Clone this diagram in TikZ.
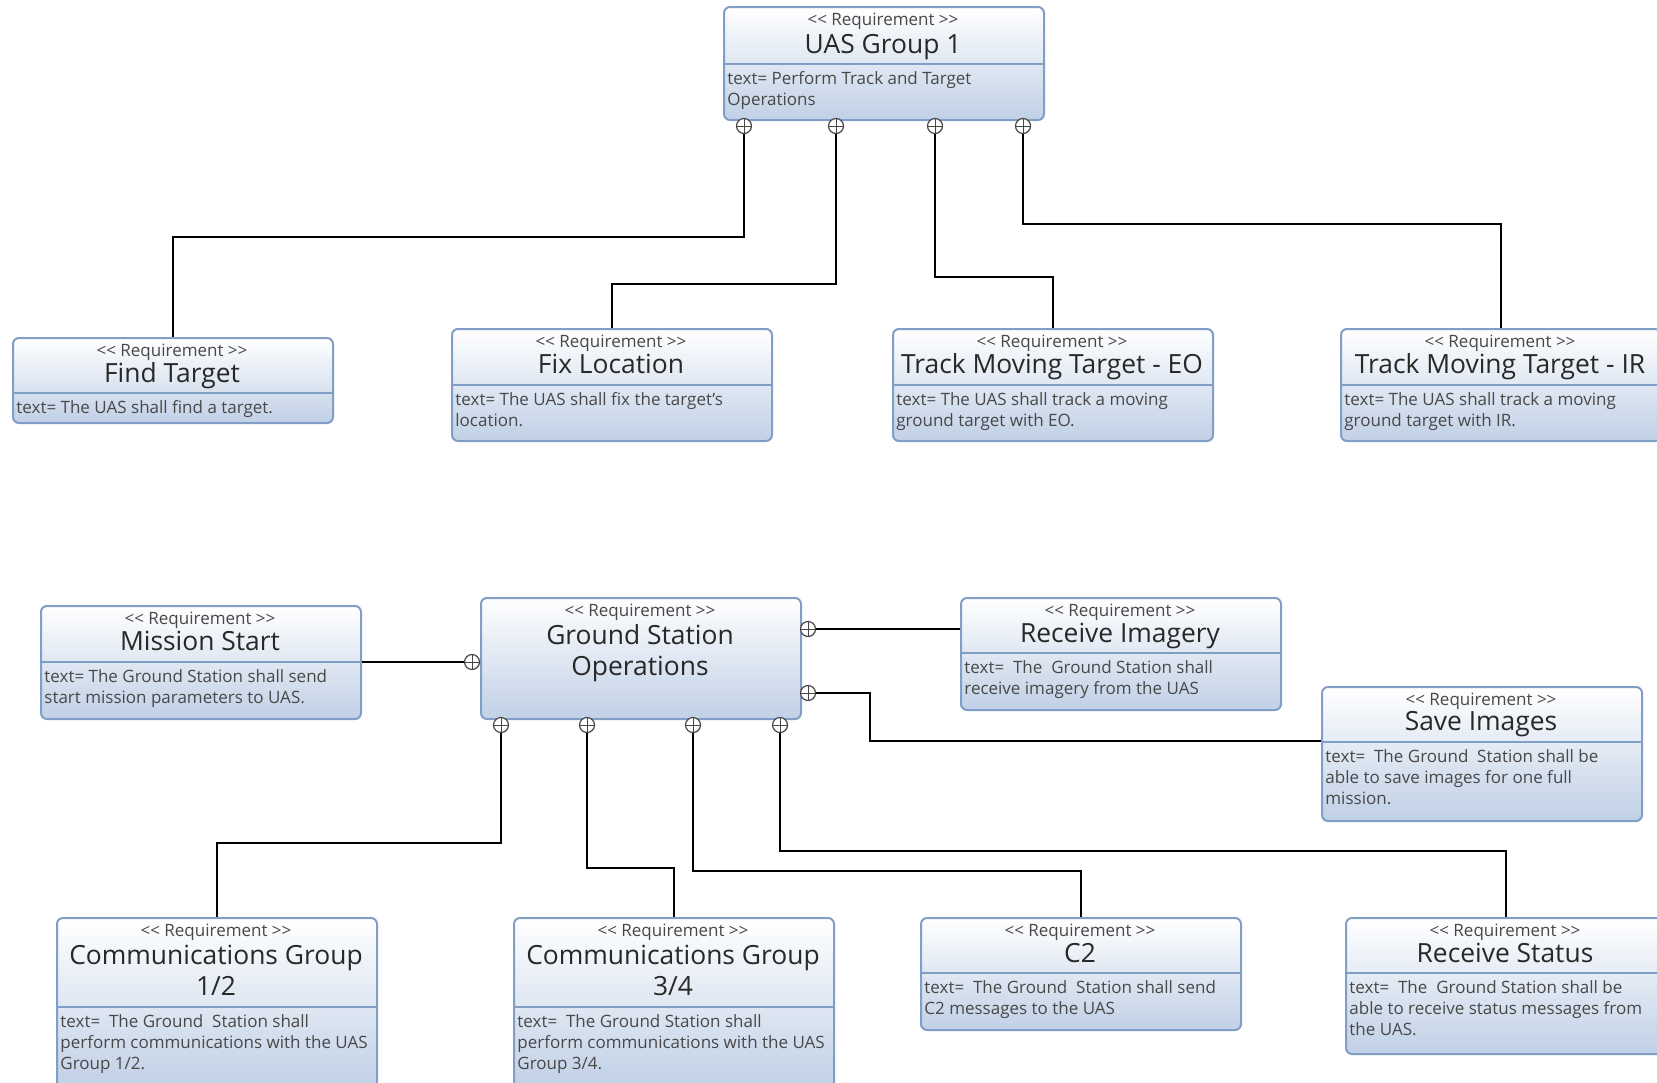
\documentclass[tikz,border=0pt]{standalone}
\usepackage{fontspec}
\setmainfont{Open Sans}
\usepackage{xcolor}
\usetikzlibrary{positioning,calc}
\definecolor{reqedge}{RGB}{128,158,198}
\definecolor{reqfill}{RGB}{192,208,230}
\definecolor{reqtext}{RGB}{40,40,40}
\definecolor{notetext}{RGB}{72,72,72}
\definecolor{ownergray}{RGB}{70,70,70}
\tikzset{
  reqbox/.style={draw=reqedge,line width=1pt,rounded corners=3pt,top color=white,bottom color=reqfill,
    minimum width=160pt,inner sep=0pt,anchor=north west},
  sepline/.style={draw=reqedge,line width=0.9pt},
  stereo/.style={font=\fontsize{8.5}{10}\selectfont,text=notetext,inner sep=0pt,anchor=base},
  reqtitle/.style={font=\fontsize{13.2}{15.5}\selectfont,text=reqtext,inner sep=0pt,anchor=base,align=center},
  reqbody/.style={font=\fontsize{8.5}{10.5}\selectfont,text=notetext,inner sep=0pt,anchor=base west,align=left},
  ownmark/.style={circle,draw=ownergray,fill=white,line width=0.6pt,minimum size=7.5pt,inner sep=0pt,
    path picture={\draw[ownergray,line width=0.5pt]
      (path picture bounding box.north) -- (path picture bounding box.south)
      (path picture bounding box.west) -- (path picture bounding box.east);}},
  ownlink/.style={draw=black,line width=1pt}
}

\begin{document}
\begin{tikzpicture}[x=0.5pt,y=-0.5pt]

  \useasboundingbox (0,0) rectangle (1657,1082);

  % upper group
  \node[reqbox,minimum height=56.5pt] (uas) at (723,6) {};
  \node[stereo] (uas-st) at (883,25) {<{}< Requirement >{}>};
  \node[reqtitle] (uas-ti) at (883,53) {UAS Group 1};
  \draw[sepline] (723,64) -- (1043,64);
  \node[reqbody] (uas-tx) at (727,105) {text= Perform Track and Target\\Operations};

  \node[reqbox,minimum height=42.5pt] (ft) at (12,337) {};
  \node[stereo] (ft-st) at (172,356) {<{}< Requirement >{}>};
  \node[reqtitle] (ft-ti) at (172,382) {Find Target};
  \draw[sepline] (12,393) -- (332,393);
  \node[reqbody] (ft-tx) at (16,413) {text= The UAS shall find a target.};

  \node[reqbox,minimum height=56pt] (fl) at (451,328) {};
  \node[stereo] (fl-st) at (611,347) {<{}< Requirement >{}>};
  \node[reqtitle] (fl-ti) at (611,373) {Fix Location};
  \draw[sepline] (451,385) -- (771,385);
  \node[reqbody] (fl-tx) at (455,426) {text= The UAS shall fix the target's\\location.};

  \node[reqbox,minimum height=56pt] (eo) at (892,328) {};
  \node[stereo] (eo-st) at (1052,347) {<{}< Requirement >{}>};
  \node[reqtitle] (eo-ti) at (1052,373) {Track Moving Target - EO};
  \draw[sepline] (892,385) -- (1212,385);
  \node[reqbody] (eo-tx) at (896,426) {text= The UAS shall track a moving\\ground target with EO.};

  \node[reqbox,minimum height=56pt] (ir) at (1340,328) {};
  \node[stereo] (ir-st) at (1500,347) {<{}< Requirement >{}>};
  \node[reqtitle] (ir-ti) at (1500,373) {Track Moving Target - IR};
  \draw[sepline] (1340,385) -- (1660,385);
  \node[reqbody] (ir-tx) at (1344,426) {text= The UAS shall track a moving\\ground target with IR.};

  % lower group
  \node[reqbox,minimum height=56.5pt] (ms) at (40,605) {};
  \node[stereo] (ms-st) at (200,624) {<{}< Requirement >{}>};
  \node[reqtitle] (ms-ti) at (200,650) {Mission Start};
  \draw[sepline] (40,662) -- (360,662);
  \node[reqbody] (ms-tx) at (44,703) {text= The Ground Station shall send\\start mission parameters to UAS.};

  \node[reqbox,minimum height=60.5pt] (gso) at (480,597) {};
  \node[stereo] (gso-st) at (640,616) {<{}< Requirement >{}>};
  \node[reqtitle] (gso-ti) at (640,675) {Ground Station\\Operations};

  \node[reqbox,minimum height=56pt] (ri) at (960,597) {};
  \node[stereo] (ri-st) at (1120,616) {<{}< Requirement >{}>};
  \node[reqtitle] (ri-ti) at (1120,642) {Receive Imagery};
  \draw[sepline] (960,653) -- (1280,653);
  \node[reqbody] (ri-tx) at (964,694) {text=\ \ The\ \ Ground Station shall\\receive imagery from the UAS};

  \node[reqbox,minimum height=67pt] (si) at (1321,686) {};
  \node[stereo] (si-st) at (1481,705) {<{}< Requirement >{}>};
  \node[reqtitle] (si-ti) at (1481,730) {Save Images};
  \draw[sepline] (1321,742) -- (1641,742);
  \node[reqbody] (si-tx) at (1325,804) {text=\ \ The Ground\ \ Station shall be\\able to save images for one full\\mission.};

  \node[reqbox,minimum height=85pt] (c12) at (56,917) {};
  \node[stereo] (c12-st) at (216,936) {<{}< Requirement >{}>};
  \node[reqtitle] (c12-ti) at (216,995) {Communications Group\\1/2};
  \draw[sepline] (56,1007) -- (376,1007);
  \node[reqbody] (c12-tx) at (60,1069) {text=\ \ The Ground\ \ Station shall\\perform communications with the UAS\\Group 1/2.};

  \node[reqbox,minimum height=85pt] (c34) at (513,917) {};
  \node[stereo] (c34-st) at (673,936) {<{}< Requirement >{}>};
  \node[reqtitle] (c34-ti) at (673,995) {Communications Group\\3/4};
  \draw[sepline] (513,1007) -- (833,1007);
  \node[reqbody] (c34-tx) at (517,1069) {text=\ \ The Ground Station shall\\perform communications with the UAS\\Group 3/4.};

  \node[reqbox,minimum height=56pt] (c2) at (920,917) {};
  \node[stereo] (c2-st) at (1080,936) {<{}< Requirement >{}>};
  \node[reqtitle] (c2-ti) at (1080,962) {C2};
  \draw[sepline] (920,973) -- (1240,973);
  \node[reqbody] (c2-tx) at (924,1014) {text=\ \ The Ground\ \ Station shall send\\C2 messages to the UAS};

  \node[reqbox,minimum height=68pt] (rs) at (1345,917) {};
  \node[stereo] (rs-st) at (1505,936) {<{}< Requirement >{}>};
  \node[reqtitle] (rs-ti) at (1505,962) {Receive Status};
  \draw[sepline] (1345,973) -- (1665,973);
  \node[reqbody] (rs-tx) at (1349,1035) {text=\ \ The\ \ Ground Station shall be\\able to receive status messages from\\the UAS.};

  % containment ends
  \node[ownmark] (u1) at (744,126) {};
  \node[ownmark] (u2) at (836,126) {};
  \node[ownmark] (u3) at (935,126) {};
  \node[ownmark] (u4) at (1023,126) {};

  \node[ownmark] (g0) at (472,662) {};
  \node[ownmark] (g1) at (808,629) {};
  \node[ownmark] (g2) at (808,693) {};
  \node[ownmark] (b1) at (501,725) {};
  \node[ownmark] (b2) at (587,725) {};
  \node[ownmark] (b3) at (693,725) {};
  \node[ownmark] (b4) at (780,725) {};

  \coordinate (si-in) at (1321,741);

  % connectors
  \draw[ownlink] (u1.south) -- ++(0,103) -| (ft.north);
  \draw[ownlink] (u2.south) -- ++(0,150) -| (fl.north);
  \draw[ownlink] (u3.south) -- ++(0,143) -| (eo.north);
  \draw[ownlink] (u4.south) -- ++(0,90) -| (ir.north);

  \draw[ownlink] (g0.west) -- (g0.west -| ms.east);
  \draw[ownlink] (g1.east) -- (g1.east -| ri.west);
  \draw[ownlink] (g2.east) -- ++(54,0) |- (si-in);
  \draw[ownlink] (b1.south) -- ++(0,110) -| (c12.north);
  \draw[ownlink] (b2.south) -- ++(0,135) -| (c34.north);
  \draw[ownlink] (b3.south) -- ++(0,138) -| (c2.north);
  \draw[ownlink] (b4.south) -- ++(0,118) -| (rs.north);

\end{tikzpicture}
\end{document}
